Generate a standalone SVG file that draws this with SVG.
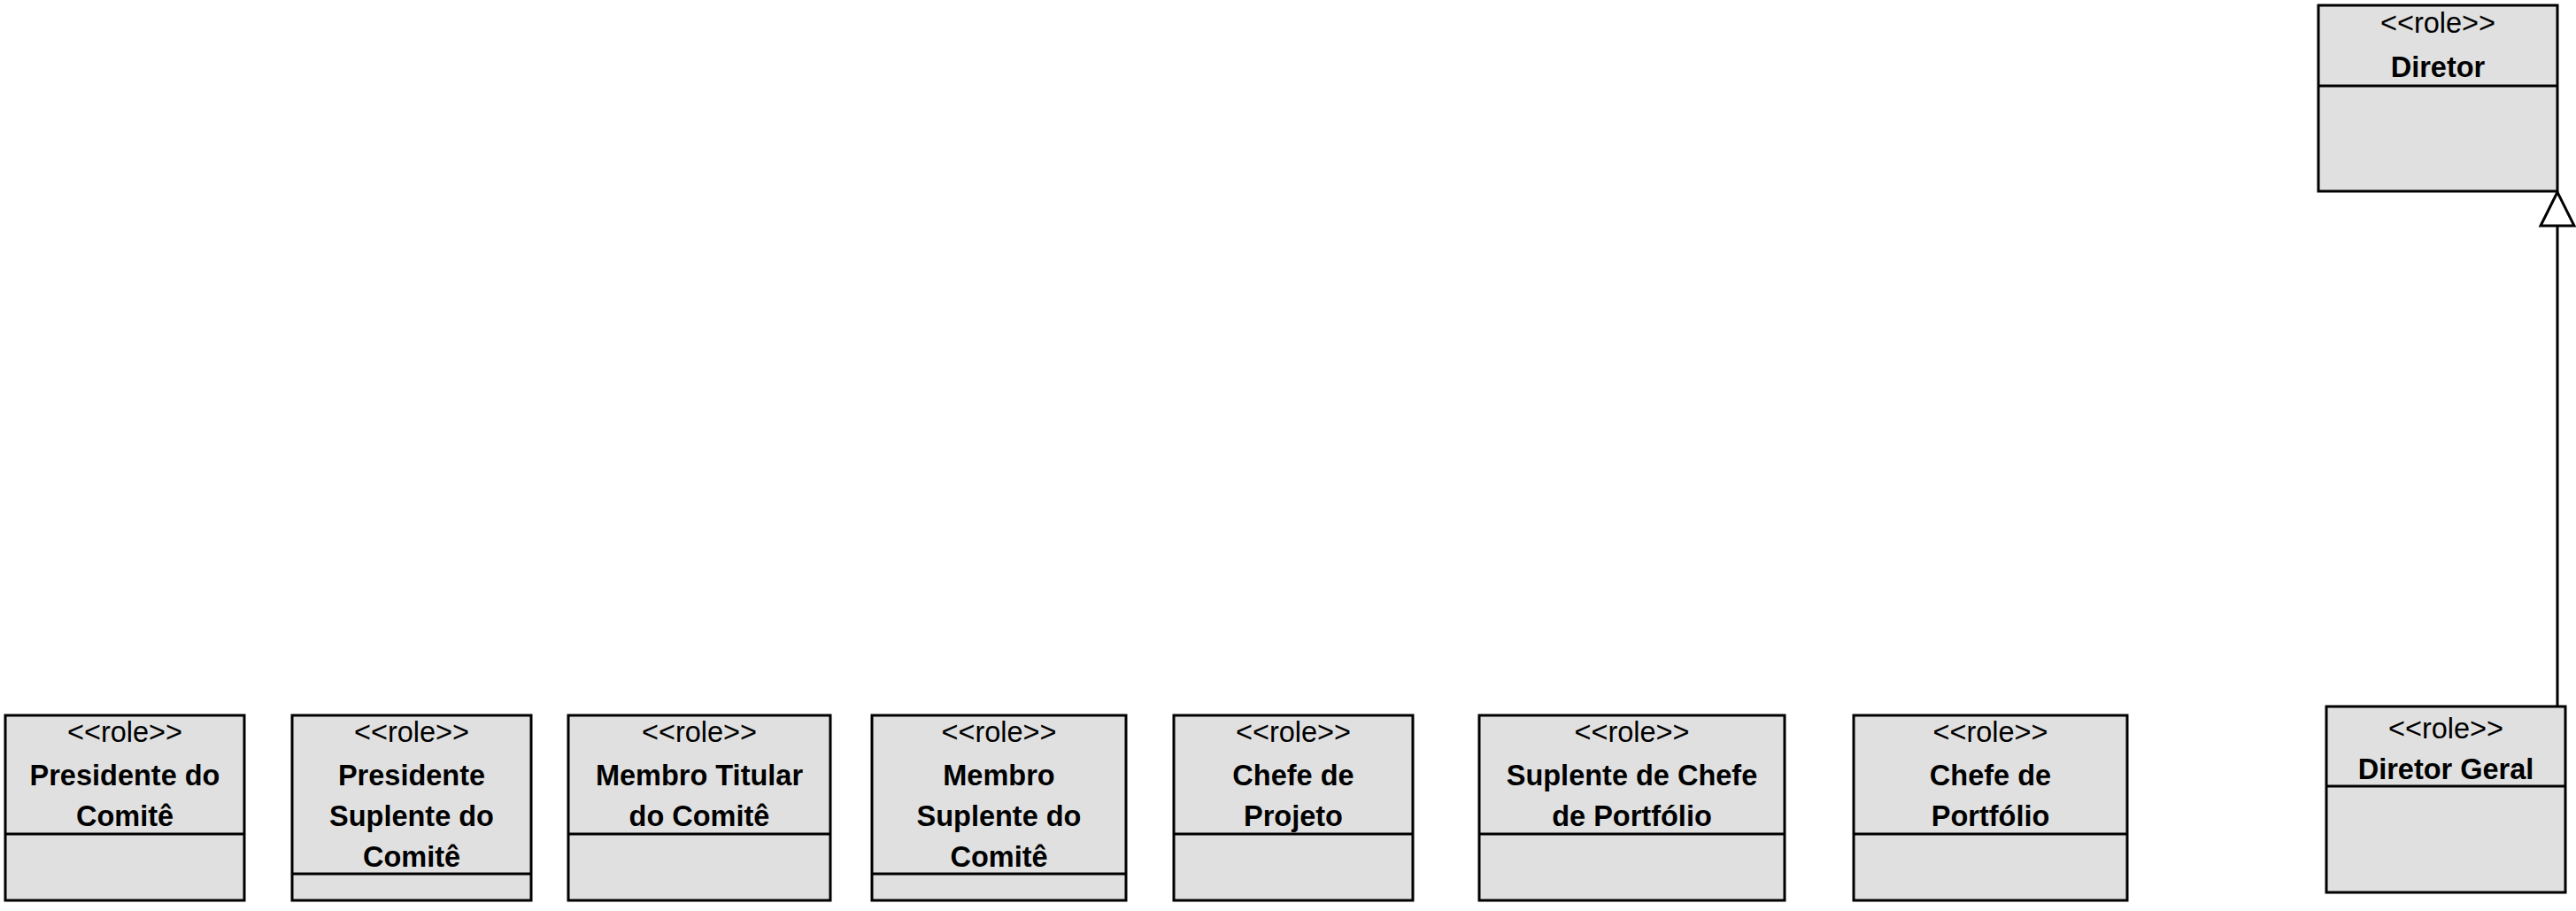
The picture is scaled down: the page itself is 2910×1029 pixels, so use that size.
<svg xmlns="http://www.w3.org/2000/svg" width="2910" height="1029" viewBox="0 0 2910 1029">
<style>
.box{fill:#e0e0e0;stroke:#000;stroke-width:3}
.div{stroke:#000;stroke-width:3;fill:none}
.st{font-family:"Liberation Sans",Arial,sans-serif;font-size:32.5px;text-anchor:middle;fill:#000}
.nm{font-family:"Liberation Sans",Arial,sans-serif;font-size:32.5px;font-weight:bold;text-anchor:middle;fill:#000}
.conn{stroke:#000;stroke-width:3;fill:none}
.head{stroke:#000;stroke-width:3;fill:#fff;stroke-linejoin:miter}
</style>
<rect width="2910" height="1029" fill="#fff"/>
<g id="connectors">
<line class="conn" x1="2889" y1="798" x2="2889" y2="255"/>
<polygon class="head" points="2889,217 2870,255 2908,255"/>
</g>
<g id="presidente-comite">
<rect class="box" x="6" y="808" width="270" height="209"/>
<line class="div" x1="6" y1="942" x2="276" y2="942"/>
<text class="st" x="141" y="838">&lt;&lt;role&gt;&gt;</text>
<text class="nm" x="141" y="887">Presidente do</text>
<text class="nm" x="141" y="933">Comitê</text>
</g>
<g id="presidente-suplente">
<rect class="box" x="330" y="808" width="270" height="209"/>
<line class="div" x1="330" y1="987" x2="600" y2="987"/>
<text class="st" x="465" y="838">&lt;&lt;role&gt;&gt;</text>
<text class="nm" x="465" y="887">Presidente</text>
<text class="nm" x="465" y="933">Suplente do</text>
<text class="nm" x="465" y="979">Comitê</text>
</g>
<g id="membro-titular">
<rect class="box" x="642" y="808" width="296" height="209"/>
<line class="div" x1="642" y1="942" x2="938" y2="942"/>
<text class="st" x="790" y="838">&lt;&lt;role&gt;&gt;</text>
<text class="nm" x="790" y="887">Membro Titular</text>
<text class="nm" x="790" y="933">do Comitê</text>
</g>
<g id="membro-suplente">
<rect class="box" x="985" y="808" width="287" height="209"/>
<line class="div" x1="985" y1="987" x2="1272" y2="987"/>
<text class="st" x="1128.5" y="838">&lt;&lt;role&gt;&gt;</text>
<text class="nm" x="1128.5" y="887">Membro</text>
<text class="nm" x="1128.5" y="933">Suplente do</text>
<text class="nm" x="1128.5" y="979">Comitê</text>
</g>
<g id="chefe-projeto">
<rect class="box" x="1326" y="808" width="270" height="209"/>
<line class="div" x1="1326" y1="942" x2="1596" y2="942"/>
<text class="st" x="1461" y="838">&lt;&lt;role&gt;&gt;</text>
<text class="nm" x="1461" y="887">Chefe de</text>
<text class="nm" x="1461" y="933">Projeto</text>
</g>
<g id="suplente-chefe-portfolio">
<rect class="box" x="1671" y="808" width="345" height="209"/>
<line class="div" x1="1671" y1="942" x2="2016" y2="942"/>
<text class="st" x="1843.5" y="838">&lt;&lt;role&gt;&gt;</text>
<text class="nm" x="1843.5" y="887">Suplente de Chefe</text>
<text class="nm" x="1843.5" y="933">de Portfólio</text>
</g>
<g id="chefe-portfolio">
<rect class="box" x="2094" y="808" width="309" height="209"/>
<line class="div" x1="2094" y1="942" x2="2403" y2="942"/>
<text class="st" x="2248.5" y="838">&lt;&lt;role&gt;&gt;</text>
<text class="nm" x="2248.5" y="887">Chefe de</text>
<text class="nm" x="2248.5" y="933">Portfólio</text>
</g>
<g id="diretor">
<rect class="box" x="2619" y="6" width="270" height="210"/>
<line class="div" x1="2619" y1="97" x2="2889" y2="97"/>
<text class="st" x="2754" y="37">&lt;&lt;role&gt;&gt;</text>
<text class="nm" x="2754" y="87">Diretor</text>
</g>
<g id="diretor-geral">
<rect class="box" x="2628" y="798" width="270" height="210"/>
<line class="div" x1="2628" y1="888" x2="2898" y2="888"/>
<text class="st" x="2763" y="834">&lt;&lt;role&gt;&gt;</text>
<text class="nm" x="2763" y="880">Diretor Geral</text>
</g>
</svg>
